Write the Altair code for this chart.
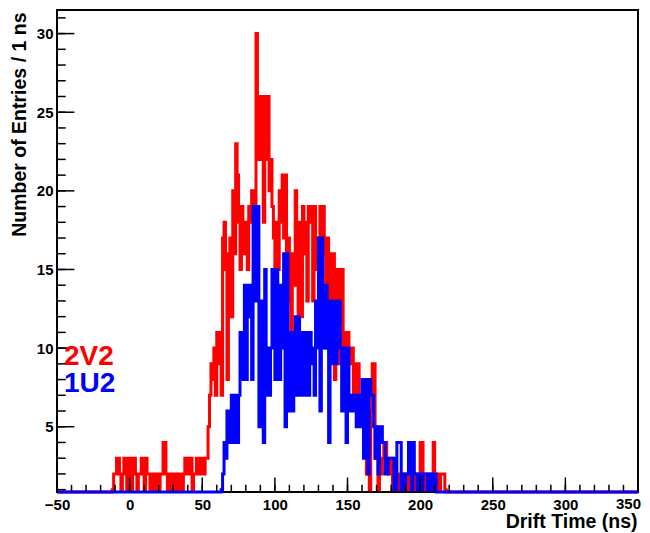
import altair as alt
import pandas as pd

# ---------------- data ----------------
x_min, x_max = -50, 350           # histogram range, 1 ns bins
x_tick_values = [-50, 0, 50, 100, 150, 200, 250, 300]
x_last_tick = [350]
y_tick_values = [5, 10, 15, 20, 25, 30]

red_name = "2V2"
red_start = -12
red_counts = [1, 2, 2, 3, 3, 2, 1, 2, 3, 3, 1, 2,
              3, 1, 3, 3, 2, 1, 2, 2, 3, 3,
              1, 3, 2, 2, 1, 2, 2, 1, 2, 2,
              1, 2, 2, 4, 4, 2, 1, 1, 2, 2,
              1, 2, 2, 1, 2, 2, 1, 2, 3, 3,
              2, 3, 3, 1, 2, 2, 3, 2, 2, 3,
              3, 2, 3, 3, 5, 7, 9, 8, 10, 7,
              11, 9, 11, 7, 17, 18, 15, 8, 16, 17,
              12, 20, 16, 23, 21, 18, 15, 19, 18, 16,
              18, 15, 19, 18, 20, 19, 17, 30, 26, 22,
              26, 24, 18, 26, 22, 26, 20, 22, 19, 17,
              13, 18, 15, 20, 18, 21, 17, 21, 13, 17,
              16, 11, 16, 14, 20, 17, 12, 18, 12, 19,
              16, 18, 13, 19, 18, 19, 13, 19, 17, 15,
              17, 19, 16, 19, 17, 10, 17, 16, 12, 16,
              16, 8, 15, 13, 15, 9, 15, 11, 9, 11,
              11, 10, 9, 10, 7, 9, 7, 9, 6, 7,
              6, 7, 7, 2, 5, 1, 6, 9, 9, 3,
              5, 1, 3, 2, 3, 4, 4, 3, 2, 3,
              3, 1, 2, 1, 2, 1, 2, 2, 2, 1,
              2, 1, 2, 1, 2, 1, 2, 1, 2, 1,
              4, 4, 2, 1, 2, 1, 2, 1, 2, 4,
              2, 1, 2, 1, 2, 2, 2, 1]

blue_name = "1U2"
blue_start = 63
blue_counts = [1, 2, 4, 3, 6, 4, 6,
               7, 4, 7, 6, 4, 7, 11, 8, 11, 14,
               8, 14, 12, 14, 8, 19, 19, 13, 19, 5,
               13, 9, 4, 15, 7, 10, 7, 10, 15, 10,
               8, 15, 10, 8, 14, 10, 16, 5, 16, 6,
               10, 11, 6, 11, 12, 7, 12, 11, 7, 11,
               11, 7, 11, 7, 11, 9, 10, 7, 13, 10,
               17, 6, 17, 14, 10, 14, 13, 4, 13, 9,
               9, 13, 9, 13, 13, 10, 6, 10, 10, 4,
               10, 7, 6, 7, 6, 7, 5, 7, 5, 7,
               8, 3, 5, 8, 2, 8, 7, 7, 5, 3,
               5, 2, 5, 5, 4, 4, 2, 2, 3, 3,
               3, 3, 1, 1, 4, 4, 4, 1, 2, 1,
               2, 2, 4, 4, 1, 4, 2, 2, 1, 2,
               2, 1, 2, 2, 2, 1, 2, 2, 1, 2, 2]


def hist_table(name, start, counts):
    vals = [0] * (x_max - x_min)
    for i, c in enumerate(counts):
        vals[start - x_min + i] = c
    vals = vals + [vals[-1]]  # closing edge for step drawing
    return pd.DataFrame({"t": list(range(x_min, x_max + 1)), "n": vals, "h": name})


df_red = hist_table(red_name, red_start, red_counts)
df_blue = hist_table(blue_name, blue_start, blue_counts)

x_major = pd.DataFrame({"t": list(range(x_min, x_max + 1, 50))})
x_minor = pd.DataFrame({"t": list(range(x_min, x_max + 1, 10))})
y_major = pd.DataFrame({"v": list(range(5, 31, 5))})
y_minor = pd.DataFrame({"v": list(range(1, 32))})

# ---------------- chart ----------------
W, H = 581, 482
FONT = "Liberation Sans"

xscale = alt.Scale(domain=[x_min, x_max], nice=False, zero=False)
yscale = alt.Scale(domain=[0.85, 31.5], nice=False, zero=False, clamp=True)

x_axis = alt.Axis(values=x_tick_values, ticks=False, tickSize=0, domain=False, grid=False,
                  labelFont=FONT, labelFontSize=15, labelFontWeight="bold", labelColor="black",
                  labelPadding=5, labelFlush=False, labelOverlap=False,
                  title="Drift Time (ns)", titleFont=FONT, titleFontSize=19.5,
                  titleFontWeight="bold", titleColor="black", titleAlign="right",
                  titleBaseline="alphabetic", titleX=580, titleY=35)
y_axis = alt.Axis(values=y_tick_values, ticks=False, tickSize=0, domain=False, grid=False,
                  labelFont=FONT, labelFontSize=15, labelFontWeight="bold", labelColor="black",
                  labelPadding=4, labelFlush=False, labelOverlap=False,
                  title="Number of Entries / 1 ns", titleFont=FONT, titleFontSize=19.5,
                  titleFontWeight="bold", titleColor="black", titleAngle=270,
                  titleAlign="right", titleBaseline="alphabetic", titleX=-32, titleY=2)

red = alt.Chart(df_red).mark_line(interpolate="step-after", color="#ff0000",
                                  strokeWidth=3).encode(
    x=alt.X("t:Q", scale=xscale, axis=x_axis),
    y=alt.Y("n:Q", scale=yscale, axis=y_axis),
)
blue = alt.Chart(df_blue).mark_line(interpolate="step-after", color="#0000ff",
                                    strokeWidth=3).encode(
    x=alt.X("t:Q", scale=xscale),
    y=alt.Y("n:Q", scale=yscale),
)

xt_major = alt.Chart(x_major).mark_rule(color="black", strokeWidth=1.5).encode(
    x=alt.X("t:Q", scale=xscale), y=alt.value(H), y2=alt.value(H - 14.5))
xt_minor = alt.Chart(x_minor).mark_rule(color="black", strokeWidth=1.5).encode(
    x=alt.X("t:Q", scale=xscale), y=alt.value(H), y2=alt.value(H - 7.2))
yt_major = alt.Chart(y_major).mark_rule(color="black", strokeWidth=1.5).encode(
    y=alt.Y("v:Q", scale=yscale), x=alt.value(0), x2=alt.value(17.4))
yt_minor = alt.Chart(y_minor).mark_rule(color="black", strokeWidth=1.5).encode(
    y=alt.Y("v:Q", scale=yscale), x=alt.value(0), x2=alt.value(8.7))

# last x tick label drawn as text so it stays inside the page edge
last_label = alt.Chart(pd.DataFrame({"t": x_last_tick})).mark_text(
    align="right", baseline="top", font=FONT, fontSize=15, fontWeight="bold",
    color="black", dx=3).encode(
    x=alt.X("t:Q", scale=xscale), y=alt.value(H + 5), text=alt.Text("t:Q"))

lab_red = alt.Chart(pd.DataFrame({"s": [red_name]})).mark_text(
    align="left", baseline="alphabetic", font=FONT, fontSize=28, fontWeight="bold",
    color="#ff0000").encode(text="s:N", x=alt.value(7), y=alt.value(355))
lab_blue = alt.Chart(pd.DataFrame({"s": [blue_name]})).mark_text(
    align="left", baseline="alphabetic", font=FONT, fontSize=28, fontWeight="bold",
    color="#0000ff").encode(text="s:N", x=alt.value(7), y=alt.value(382))

chart = alt.layer(red, blue, xt_minor, xt_major, yt_minor, yt_major, last_label,
                  lab_red, lab_blue).properties(
    width=W, height=H,
    autosize=alt.AutoSizeParams(type="none"),
    padding={"left": 49, "top": 2, "right": 4, "bottom": 42},
    background="white",
).configure_view(stroke="black", strokeWidth=2)

chart.save("out.html", embed_options={"renderer": "svg", "actions": False})
